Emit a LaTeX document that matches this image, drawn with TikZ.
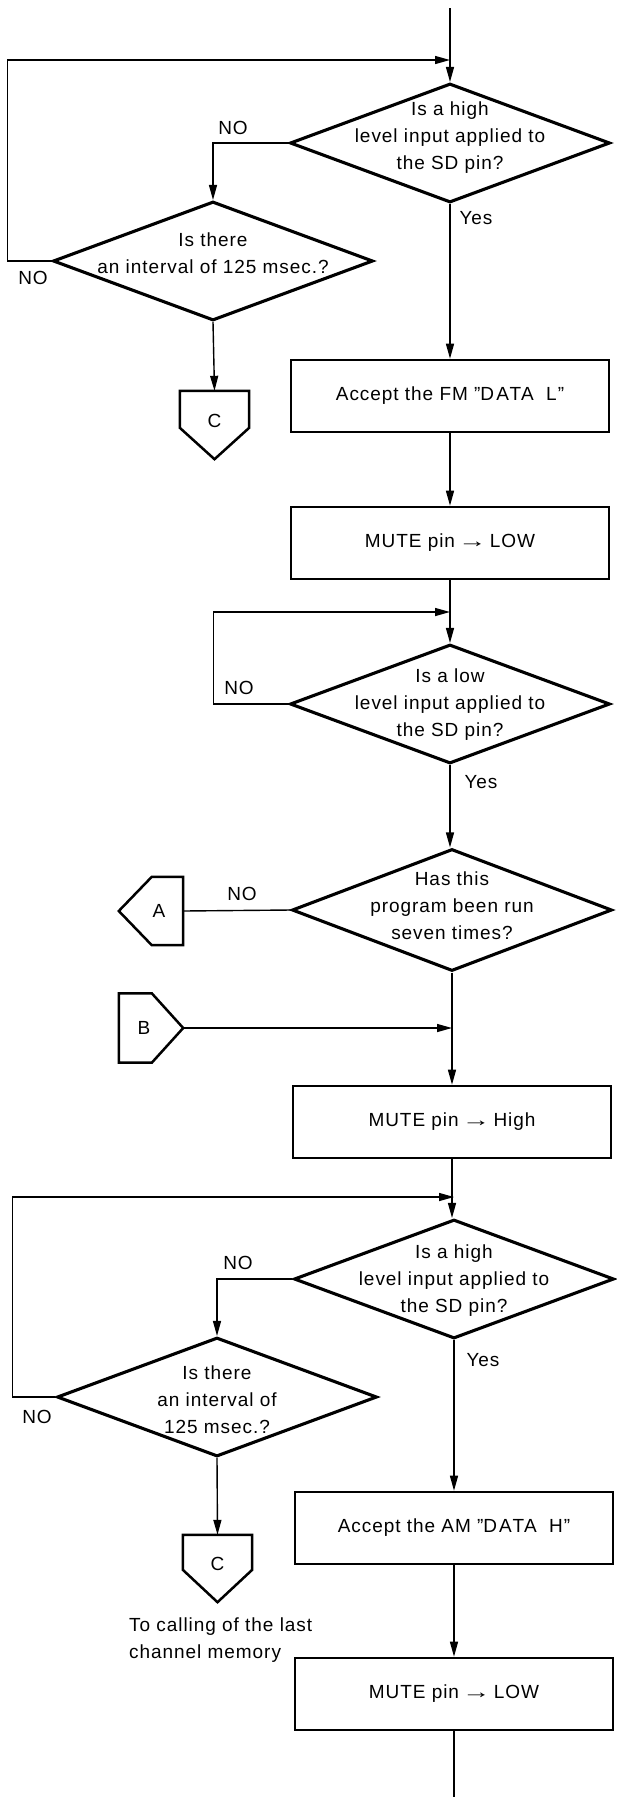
\documentclass[tikz,border=0pt]{standalone}
\usepackage{fontspec}
\usepackage{graphicx}
\setmainfont{Liberation Sans}[LetterSpace=5]
\usetikzlibrary{arrows.meta,shapes.geometric,calc}
\newcommand\chartfont{\fontsize{19}{27}\selectfont}
% centred multi-line text that does not influence the size of a diamond
\newcommand\dectext[2][0pt]{\smash{\makebox[0pt]{\raisebox{\dimexpr #1-4.6pt\relax}{\begin{tabular}{@{}c@{}}#2\end{tabular}}}}}
% widened arrow sign and slightly spaced data word
\newcommand\setto{\,\scalebox{1.5}[1]{→}\,}
\newcommand\dataword[1]{”{\addfontfeature{LetterSpace=11}DAT}A\hspace{0.65em}#1”}
\begin{document}
\begin{tikzpicture}[x=1pt,y=-1pt,
  every node/.style={font=\chartfont, inner sep=0pt},
  proc/.style={draw, rectangle, line width=2.6pt, minimum width=318pt, minimum height=72pt},
  dec/.style={draw, diamond, line width=3.1pt, minimum width=320pt, minimum height=119pt},
  pentbox/.style={rectangle, minimum width=69pt, minimum height=68pt},
  pentline/.style={line width=2.5pt, line join=miter},
  flow/.style={line width=1.4pt},
  flowarr/.style={flow, -{Triangle[length=15pt,width=8pt]}}
]
\useasboundingbox (0,0) rectangle (616,1797);

% ---------- upper part: FM data ----------
\coordinate (start) at (450,8);
\coordinate (j1) at (450,60);
\node[dec] (d1) at (450,143) {\dectext[6pt]{Is a high\\level input applied to\\the SD pin?}};
\node[dec] (d2) at (213,261) {\dectext[7pt]{Is there\\an interval of 125 msec.?}};
\node[pentbox] (c1) at (214.5,425) {\raisebox{8pt}{C}};
\draw[pentline] (c1.north west) -- (c1.north east) -- ($(c1.north east)+(0,37)$)
  -- (c1.south) -- ($(c1.north west)+(0,37)$) -- cycle;
\node[proc] (b1) at (450,396) {Accept the FM \dataword{L}};
\node[proc] (b2) at (450,543) {MUTE pin\setto LOW};

\node (no1) at (233,128) {NO};
\node (no2) at (33,278) {NO};
\node (yes1) at (476,218) {Yes};

\draw[flowarr] (start) -- (d1.north);
\draw[flowarr] (d1.west) -| (d2.north);
\draw[flowarr] (d2.west) -- ++(-44,0) |- (j1);
\draw[flowarr] (d1.south) -- (b1.north);
\draw[flowarr] (d2.south) -- (c1.north);
\draw[flowarr] (b1.south) -- (b2.north);

% ---------- low-level check and run counter ----------
\coordinate (j2) at (450,612);
\node[dec] (d3) at (450,704) {\dectext{Is a low\\level input applied to\\the SD pin?}};
\node[dec, minimum height=122pt] (d4) at (452,910) {\dectext[3pt]{Has this\\program been run\\seven times?}};
\node[pentbox, minimum width=64pt] (pa) at (151,911) {\kern16pt A};
\draw[pentline] (pa.south east) -- (pa.north east) -- ($(pa.north west)+(33,0)$)
  -- (pa.west) -- ($(pa.south west)+(33,0)$) -- cycle;

\node (no3) at (239,688) {NO};
\node (yes3) at (481,782) {Yes};
\node (no4) at (242,894) {NO};

\draw[flowarr] (b2.south) -- (d3.north);
\draw[flowarr] (d3.west) -- ++(-75,0) |- (j2);
\draw[flowarr] (d3.south) -- (d3.south |- d4.north);
\draw[flow] (d4.west) -- (pa.east);

% ---------- entry B and AM data ----------
\coordinate (j3) at (452,1028);
\node[pentbox, minimum width=64pt, minimum height=69pt] (pb) at (151,1028) {B\kern14pt};
\draw[pentline] (pb.north west) -- ($(pb.north west)+(33,0)$) -- (pb.east)
  -- ($(pb.south west)+(33,0)$) -- (pb.south west) -- cycle;
\node[proc] (b3) at (452,1122) {MUTE pin\setto High};

\draw[flowarr] (pb.east) -- (j3);
\draw[flowarr] (d4.south) -- (d4.south |- b3.north);

\coordinate (j4) at (454,1197);
\node[dec] (d5) at (454,1279) {\dectext[-1pt]{Is a high\\level input applied to\\the SD pin?}};
\node[dec] (d6) at (217,1397) {\dectext[-4pt]{Is there\\an interval of\\125 msec.?}};
\node[pentbox, minimum height=67pt] (c2) at (217.5,1568.5) {\raisebox{10pt}{C}};
\draw[pentline] (c2.north west) -- (c2.north east) -- ($(c2.north east)+(0,35)$)
  -- (c2.south) -- ($(c2.north west)+(0,35)$) -- cycle;
\node[align=left, anchor=north west] (note) at (129,1618) {To calling of the last\\channel memory};
\node[proc] (b4) at (454,1528) {Accept the AM \dataword{H}};
\node[proc] (b5) at (454,1694) {MUTE pin\setto LOW};
\coordinate (end) at (454,1797);

\node (no5) at (238,1263) {NO};
\node (no6) at (37,1417) {NO};
\node (yes5) at (483,1360) {Yes};

\draw[flowarr] (b3.south) -- (b3.south |- d5.north);
\draw[flowarr] (d5.west) -| (d6.north);
\draw[flowarr] (d6.west) -- ++(-43,0) |- (j4);
\draw[flowarr] (d6.south) -- (c2.north);
\draw[flowarr] (d5.south) -- (b4.north);
\draw[flowarr] (b4.south) -- (b5.north);
\draw[flow] (b5.south) -- (end);
\end{tikzpicture}
\end{document}
